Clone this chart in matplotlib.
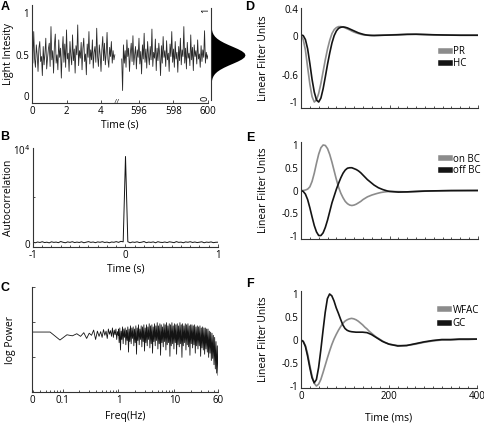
import numpy as np
import matplotlib.pyplot as plt
from matplotlib.lines import Line2D
from matplotlib.ticker import FixedLocator, MultipleLocator, NullFormatter

plt.rcParams['font.family'] = ['Open Sans', 'DejaVu Sans']
plt.rcParams['axes.linewidth'] = 0.8
plt.rcParams['axes.edgecolor'] = '#333333'

GRAY = '#8c8c8c'
DARK = '#141414'

# ---------------- data ----------------
# A: light intensity, first and last 5 s of the stimulus
a_left_vals = [0.55, 0.40, 0.78, 0.45, 0.35, 0.62, 0.50, 0.30, 0.58, 0.66, 0.42, 0.48, 0.25, 0.60, 0.38, 0.52, 0.70, 0.33, 0.46, 0.57,
               0.64, 0.36, 0.84, 0.44, 0.55, 0.28, 0.62, 0.75, 0.40, 0.50, 0.32, 0.68, 0.47, 0.58, 0.22, 0.54, 0.72, 0.41, 0.63, 0.35,
               0.80, 0.45, 0.52, 0.30, 0.66, 0.49, 0.38, 0.74, 0.43, 0.57, 0.28, 0.61, 0.50, 0.86, 0.37, 0.55, 0.46, 0.65, 0.32, 0.58,
               0.70, 0.42, 0.51, 0.26, 0.63, 0.47, 0.78, 0.39, 0.56, 0.44, 0.68, 0.34, 0.53, 0.60, 0.41, 0.82, 0.48, 0.36, 0.62, 0.50,
               0.30, 0.57, 0.72, 0.43, 0.64, 0.38, 0.52, 0.77, 0.45, 0.35, 0.59, 0.48, 0.66, 0.40, 0.55, 0.44, 0.50]
a_right_vals = [0.45, 0.07, 0.62, 0.40, 0.55, 0.35, 0.68, 0.48, 0.58, 0.30, 0.52, 0.64, 0.42, 0.73, 0.38, 0.50, 0.60, 0.33, 0.56, 0.47,
                0.70, 0.39, 0.54, 0.27, 0.62, 0.45, 0.76, 0.41, 0.57, 0.34, 0.66, 0.49, 0.38, 0.60, 0.44, 0.81, 0.36, 0.53, 0.46, 0.69,
                0.31, 0.58, 0.43, 0.64, 0.50, 0.25, 0.61, 0.40, 0.72, 0.47, 0.55, 0.36, 0.67, 0.44, 0.52, 0.30, 0.63, 0.48, 0.78, 0.41,
                0.57, 0.35, 0.66, 0.45, 0.53, 0.29, 0.60, 0.43, 0.70, 0.38, 0.56, 0.48, 0.84, 0.40, 0.58, 0.33, 0.65, 0.46, 0.52, 0.37,
                0.74, 0.44, 0.59, 0.31, 0.62, 0.48, 0.55, 0.39, 0.68, 0.45, 0.51, 0.35, 0.61, 0.42, 0.56, 0.47, 0.79, 0.40, 0.53, 0.45, 0.50]
a_left_t = np.arange(len(a_left_vals)) * 0.05
a_right_t = 595 + np.arange(len(a_right_vals)) * 0.05
a_xticks = [0, 2, 4, 596, 598, 600]

# intensity histogram (normalised counts)
hist_bins = np.round(np.arange(0.15, 0.851, 0.025), 3)
hist_counts = [0.004, 0.009, 0.018, 0.034, 0.062, 0.105, 0.169, 0.257, 0.368, 0.499, 0.641, 0.779, 0.895, 0.973, 1.0,
               0.973, 0.895, 0.779, 0.641, 0.499, 0.368, 0.257, 0.169, 0.105, 0.062, 0.034, 0.018, 0.009, 0.004]

# B: autocorrelation
b_lag = np.arange(-40, 41) * 0.025
b_vals = [200, 150, 230, 180, 260, 170, 210, 140, 250, 190,
          220, 160, 280, 200, 150, 240, 190, 260, 170, 220,
          180, 250, 150, 210, 270, 190, 230, 160, 240, 200,
          260, 180, 220, 150, 230, 200, 270, 190, 300, 250,
          9300,
          260, 150, 230, 190, 250, 170, 210, 280, 160, 220,
          190, 240, 150, 260, 200, 180, 230, 170, 250, 210,
          160, 270, 190, 220, 150, 240, 200, 260, 180, 230,
          170, 210, 250, 150, 220, 190, 240, 160, 200, 210]

# C: power spectrum (log power, arbitrary units)
c_freq = np.concatenate([[0.0285], np.arange(2, 34) * 0.03, np.geomspace(1.0, 60.0, 150)])
c_low = [0.571,
         0.571, 0.495, 0.545, 0.535, 0.555, 0.530, 0.565, 0.510, 0.560, 0.540, 0.590, 0.500, 0.580, 0.530, 0.575, 0.520,
         0.595, 0.540, 0.580, 0.510, 0.600, 0.550, 0.585, 0.530, 0.610, 0.520, 0.590, 0.545, 0.600, 0.500, 0.575, 0.540]
c_high = [0.60, 0.47, 0.61, 0.40, 0.58, 0.50, 0.62, 0.46, 0.60, 0.52,
          0.61, 0.45, 0.59, 0.49, 0.62, 0.38, 0.60, 0.48, 0.63, 0.46,
          0.61, 0.51, 0.62, 0.44, 0.60, 0.47, 0.63, 0.36, 0.61, 0.49,
          0.64, 0.45, 0.60, 0.50, 0.63, 0.43, 0.62, 0.48, 0.64, 0.39,
          0.61, 0.47, 0.64, 0.44, 0.62, 0.50, 0.65, 0.42, 0.63, 0.46,
          0.64, 0.37, 0.62, 0.48, 0.65, 0.44, 0.63, 0.49, 0.66, 0.41,
          0.63, 0.46, 0.65, 0.35, 0.64, 0.47, 0.62, 0.43, 0.65, 0.48,
          0.64, 0.40, 0.66, 0.45, 0.63, 0.47, 0.65, 0.34, 0.64, 0.44,
          0.66, 0.46, 0.63, 0.41, 0.65, 0.47, 0.64, 0.36, 0.65, 0.45,
          0.63, 0.43, 0.66, 0.46, 0.64, 0.33, 0.65, 0.44, 0.63, 0.47,
          0.65, 0.40, 0.64, 0.45, 0.65, 0.43, 0.63, 0.35, 0.64, 0.46,
          0.64, 0.42, 0.63, 0.45, 0.64, 0.37, 0.62, 0.44, 0.63, 0.41,
          0.62, 0.44, 0.63, 0.34, 0.61, 0.42, 0.62, 0.40, 0.61, 0.36,
          0.61, 0.41, 0.60, 0.38, 0.60, 0.33, 0.58, 0.37, 0.57, 0.30,
          0.56, 0.32, 0.54, 0.26, 0.52, 0.22, 0.48, 0.18, 0.44, 0.16]
c_vals = c_low + c_high
c_xticks = [0.0285, 0.1, 1, 10, 60]
c_xticklabels = ['0', '0.1', '1', '10', '60']

# D-F: linear filters (time in ms)
filt_t = list(range(0, 200, 5)) + list(range(200, 401, 20))
pr = [0, -0.06, -0.22, -0.48, -0.73, -0.92, -1.0, -0.97, -0.87, -0.72, -0.54, -0.36, -0.2, -0.07, 0.03, 0.09, 0.12, 0.135, 0.135, 0.128,
      0.115, 0.1, 0.085, 0.067, 0.052, 0.04, 0.03, 0.02, 0.012, 0.008, 0.005, 0.003, 0.002, 0.002, 0.003, 0.004, 0.005, 0.006, 0.007, 0.008,
      0.01, 0.015, 0.02, 0.02, 0.015, 0.01, 0.008, 0.006, 0.005, 0.005, 0.005]
hc = [0.01, 0.0, -0.06, -0.2, -0.42, -0.66, -0.85, -0.97, -1.0, -0.94, -0.8, -0.62, -0.43, -0.26, -0.11, 0.0, 0.07, 0.11, 0.125, 0.13,
      0.125, 0.115, 0.1, 0.085, 0.07, 0.055, 0.04, 0.03, 0.02, 0.012, 0.007, 0.004, 0.002, 0.001, 0.002, 0.003, 0.004, 0.005, 0.006, 0.007,
      0.008, 0.012, 0.018, 0.02, 0.016, 0.012, 0.009, 0.007, 0.005, 0.005, 0.005]
on_bc = [0, 0.0, 0.01, 0.03, 0.08, 0.2, 0.38, 0.6, 0.8, 0.94, 1.0, 0.99, 0.92, 0.79, 0.62, 0.43, 0.24, 0.07, -0.06, -0.16,
         -0.24, -0.29, -0.32, -0.33, -0.32, -0.3, -0.27, -0.24, -0.2, -0.17, -0.14, -0.12, -0.1, -0.085, -0.07, -0.057, -0.045, -0.037, -0.03, -0.025,
         -0.02, -0.025, -0.03, -0.025, -0.015, -0.01, -0.005, 0.0, 0.0, 0.0, 0.0]
off_bc = [0, -0.02, -0.08, -0.2, -0.38, -0.58, -0.77, -0.91, -0.99, -0.99, -0.93, -0.81, -0.65, -0.46, -0.27, -0.12, 0.03, 0.16, 0.28, 0.38,
          0.45, 0.49, 0.5, 0.5, 0.48, 0.46, 0.43, 0.39, 0.34, 0.29, 0.24, 0.2, 0.16, 0.12, 0.09, 0.06, 0.04, 0.02, 0.005, -0.01,
          -0.02, -0.035, -0.03, -0.02, -0.012, -0.008, -0.005, -0.003, -0.002, -0.001, 0.0]
wfac = [0, -0.03, -0.12, -0.3, -0.55, -0.78, -0.94, -1.0, -0.96, -0.86, -0.71, -0.55, -0.39, -0.24, -0.1, 0.02, 0.12, 0.21, 0.29, 0.36,
        0.41, 0.44, 0.46, 0.47, 0.46, 0.44, 0.41, 0.37, 0.33, 0.28, 0.24, 0.19, 0.15, 0.11, 0.07, 0.04, 0.01, -0.02, -0.05, -0.07,
        -0.09, -0.12, -0.12, -0.09, -0.05, -0.02, 0.0, 0.0, 0.01, 0.01, 0.02]
gc = [0, -0.03, -0.14, -0.35, -0.6, -0.82, -0.93, -0.86, -0.6, -0.22, 0.2, 0.6, 0.9, 1.0, 0.96, 0.85, 0.7, 0.58, 0.45, 0.33,
      0.25, 0.21, 0.19, 0.18, 0.175, 0.17, 0.17, 0.17, 0.17, 0.165, 0.16, 0.14, 0.12, 0.09, 0.06, 0.03, 0.0, -0.03, -0.05, -0.07,
      -0.09, -0.13, -0.12, -0.08, -0.04, -0.01, 0.01, 0.01, 0.02, 0.02, 0.02]

# ---------------- figure ----------------
W, H = 485, 423
fig = plt.figure(figsize=(W / 100, H / 100), dpi=100)


def add_ax(left, top, right, bottom):
    return fig.add_axes([left / W, 1 - bottom / H, (right - left) / W, (bottom - top) / H])


def style(ax):
    for s in ['top', 'right']:
        ax.spines[s].set_visible(False)
    ax.tick_params(labelsize=7, pad=2, direction='in', length=2, width=0.6, colors='#333333', labelcolor='black')
    ax.tick_params(which='minor', direction='in', length=1.5, width=0.6, colors='#333333')


LBL = 7.5

# A
axA = add_ax(32, 5, 208, 103)
style(axA)
shift = 589.8
axA.plot(a_left_t, a_left_vals, color='#2a2a2a', lw=0.6)
axA.plot(a_right_t - shift, a_right_vals, color='#2a2a2a', lw=0.6)
axA.set_xlim(0, 10.2)
axA.set_ylim(-0.08, 1.1)
axA.set_xticks([t if t < 100 else t - shift for t in a_xticks])
axA.set_xticklabels([str(t) for t in a_xticks])
axA.set_yticks([0, 0.5, 1])
axA.set_yticklabels(['0', '0.5', '1'])
axA.tick_params(axis='y', length=0)
axA.set_xlabel('Time (s)', fontsize=LBL, labelpad=2)
axA.set_ylabel('Light Intesity', fontsize=LBL)
axA.yaxis.set_label_coords(-0.105, 0.5)
axA.text(4.95, -0.08, '//', fontsize=6, ha='center', va='center', color='#333333')

axH = add_ax(211, 5, 245, 103)
axH.fill_betweenx(hist_bins, 0, hist_counts, color='black', lw=0)
axH.set_xlim(0, 1.0)
axH.set_ylim(-0.08, 1.1)
for s in ['top', 'right', 'bottom']:
    axH.spines[s].set_visible(False)
axH.spines['left'].set_bounds(-0.04, 1.06)
axH.set_xticks([])
axH.set_yticks([])
axH.text(-0.17, 1.04, '1', rotation=90, fontsize=6.5, ha='center', va='center', transform=axH.get_yaxis_transform())
axH.text(-0.17, -0.02, '0', rotation=90, fontsize=6.5, ha='center', va='center', transform=axH.get_yaxis_transform())

# B
axB = add_ax(33, 148, 218, 247)
style(axB)
axB.plot(b_lag, b_vals, color=DARK, lw=0.7)
axB.set_xlim(-1, 1)
axB.set_ylim(-300, 10200)
axB.set_xticks([-1, 0, 1])
axB.set_xticklabels(['-1', '0', '1'])
axB.xaxis.set_minor_locator(MultipleLocator(0.1))
axB.set_yticks([0, 10000])
axB.set_yticklabels(['0', r'10$^{4}$'])
axB.yaxis.set_minor_locator(FixedLocator([5000]))
axB.tick_params(axis='y', which='major', length=0)
axB.set_xlabel('Time (s)', fontsize=LBL, labelpad=2)
axB.set_ylabel('Autocorrelation', fontsize=LBL)
axB.yaxis.set_label_coords(-0.1, 0.5)

# C
axC = add_ax(32, 287, 218, 392)
style(axC)
axC.set_xscale('log')
axC.plot(c_freq, c_vals, color=DARK, lw=0.6)
axC.set_xlim(0.0285, 60)
axC.set_ylim(0, 1)
axC.set_xticks(c_xticks)
axC.set_xticklabels(c_xticklabels)
axC.xaxis.set_minor_formatter(NullFormatter())
axC.set_yticks([1 / 3, 2 / 3, 1])
axC.set_yticklabels([])
axC.set_xlabel('Freq(Hz)', fontsize=LBL, labelpad=4)
axC.set_ylabel('log Power', fontsize=LBL)
axC.yaxis.set_label_coords(-0.085, 0.5)

# D-F
filters = [
    (add_ax(301, 8, 478, 108), (-1.09, 0.415), [0.4, 0, -0.6, -1], ['0.4', '0', '-0.6', '-1'],
     pr, hc, 'PR', 'HC', (0.79, 0.62), 0.1),
    (add_ax(301, 142, 478, 239), (-1.066, 1.066), [1, 0.5, 0, -0.5, -1], ['1', '0.5', '0', '-0.5', '-1'],
     on_bc, off_bc, 'on BC', 'off BC', (0.79, 0.88), 0.05),
    (add_ax(301, 291, 477, 388), (-1.043, 1.065), [1, 0.5, 0, -0.5, -1], ['1', '0.5', '0', '-0.5', '-1'],
     wfac, gc, 'WFAC', 'GC', (0.79, 0.86), 0.3),
]
for i, (ax, ylim, yt, ytl, g, k, gl, kl, lpos, lsp) in enumerate(filters):
    style(ax)
    ax.plot(filt_t, g, color=GRAY, lw=1.2)
    ax.plot(filt_t, k, color=DARK, lw=1.2)
    ax.set_xlim(0, 400)
    ax.set_ylim(*ylim)
    ax.set_yticks(yt)
    ax.set_yticklabels(ytl)
    ax.tick_params(axis='y', length=0)
    ax.set_xticks([0, 200, 400])
    ax.xaxis.set_minor_locator(MultipleLocator(20))
    if i < 2:
        ax.set_xticklabels([])
    ax.set_ylabel('Linear Filter Units', fontsize=LBL)
    ax.yaxis.set_label_coords(-0.18, 0.5)
    handles = [Line2D([], [], color=GRAY, lw=4), Line2D([], [], color=DARK, lw=4)]
    ax.legend(handles, [gl, kl], loc='upper left', bbox_to_anchor=lpos, frameon=False, fontsize=7,
              handlelength=0.9, handletextpad=0.4, labelspacing=lsp, borderpad=0, borderaxespad=0)
filters[2][0].set_xlabel('Time (ms)', fontsize=LBL, labelpad=8)

# panel letters
for lab, x, y in [('A', 5, 1), ('B', 5, 131), ('C', 5, 282), ('D', 250, 1), ('E', 250, 132), ('F', 250, 278)]:
    fig.text(x / W, 1 - y / H, lab, fontsize=9, fontweight='bold', family='Liberation Sans', ha='center', va='top')

fig.savefig('out.png', dpi=100)
